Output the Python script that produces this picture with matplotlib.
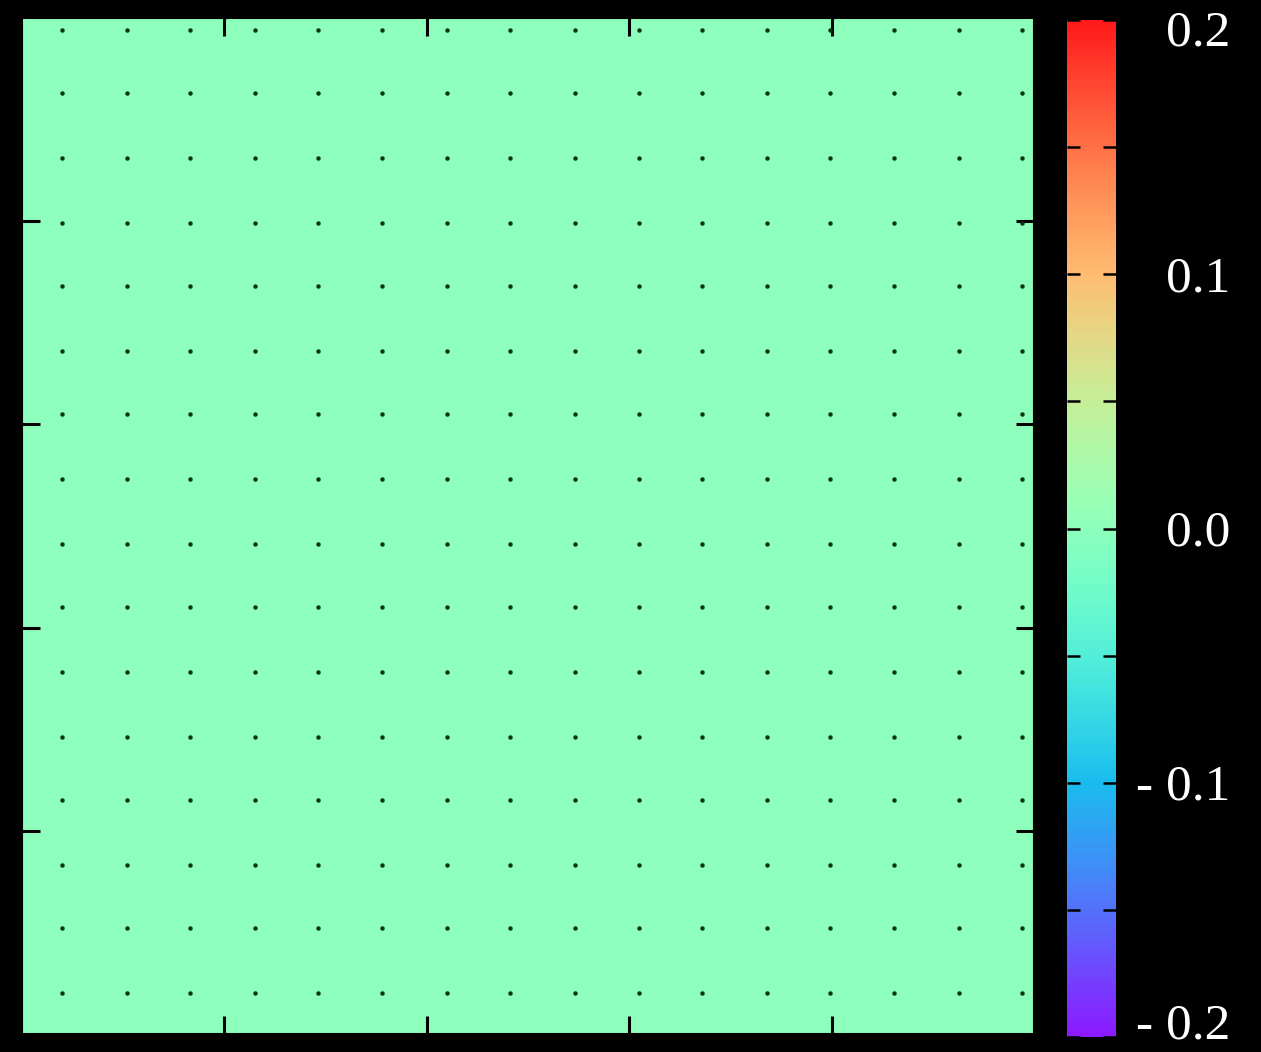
import matplotlib
matplotlib.use("Agg")
import matplotlib.pyplot as plt
import numpy as np
from matplotlib.colors import ListedColormap
from matplotlib.ticker import FixedLocator, NullFormatter
from matplotlib.transforms import blended_transform_factory, ScaledTranslation


# field on the square (flat, every node reads 0.0 at this frame)
field = [[0.0] * 16 for _ in range(16)]

# node positions of the dot grid, same on both axes
node_x = [0.20, 0.52, 0.83, 1.15, 1.46, 1.78, 2.10, 2.41,
          2.73, 3.05, 3.36, 3.68, 3.99, 4.31, 4.63, 4.94]
node_y = [0.20, 0.52, 0.83, 1.15, 1.46, 1.78, 2.10, 2.41,
          2.73, 3.05, 3.36, 3.68, 3.99, 4.31, 4.63, 4.94]

axis_ticks = [1, 2, 3, 4]
vmin, vmax = -0.2, 0.2
cbar_ticks = [-0.2, -0.1, 0.0, 0.1, 0.2]
cbar_labels = ["- 0.2", "- 0.1", "0.0", "0.1", "0.2"]
cbar_minor = [-0.15, -0.05, 0.05, 0.15]

# rainbow, washed a little toward white like the video frame
base = plt.get_cmap("rainbow")(np.linspace(0, 1, 256))
base[:, :3] = base[:, :3] * 0.9 + 0.1
cmap = ListedColormap(base)

W, H = 1261, 1052
fig = plt.figure(figsize=(W / 100, H / 100), dpi=100, facecolor="black")

ax = fig.add_axes([22 / W, 1 - 1034 / H, 1012 / W, 1016 / H])
ax.set_facecolor("black")
im = ax.imshow(field, cmap=cmap, vmin=vmin, vmax=vmax,
               extent=(0, 5, 0, 5), origin="lower", aspect="auto",
               interpolation="nearest")

gx, gy = np.meshgrid(node_x, node_y)
ax.plot(gx.ravel(), gy.ravel(), "o", color="#0a3216", ms=3.2, mew=0)

ax.set_xlim(0, 5)
ax.set_ylim(0, 5)
ax.set_xticks(axis_ticks)
ax.set_yticks(axis_ticks)
ax.set_xticklabels([])
ax.set_yticklabels([])
ax.tick_params(direction="in", length=13, width=2.2, color="black",
               top=True, right=True)
for s in ax.spines.values():
    s.set_color("black")
    s.set_linewidth(1.5)

# colorbar
cax = fig.add_axes([1067 / W, 1 - 1037 / H, 49 / W, 1017 / H])
cb = fig.colorbar(im, cax=cax)
cb.outline.set_visible(False)
cax.yaxis.set_major_locator(FixedLocator(cbar_ticks))
cax.yaxis.set_minor_locator(FixedLocator(cbar_minor))
cax.yaxis.set_major_formatter(NullFormatter())
cax.tick_params(which="both", direction="in", length=9.5, width=1.8,
                color="black", left=True, right=True)

# labels sit right-aligned; the two end ones are nudged inside the frame
trans = blended_transform_factory(cax.transAxes, cax.transData)
for val, lab in zip(cbar_ticks, cbar_labels):
    dy = -5
    if val == vmax:
        dy = -13
    elif val == vmin:
        dy = 11
    t = trans + ScaledTranslation(0, dy / 100, fig.dpi_scale_trans)
    cax.text(1 + 114 / 49, val, lab, transform=t, ha="right", va="center",
             family="Liberation Serif", fontsize=37, color="white",
             clip_on=False)

fig.savefig("out.png", dpi=100, facecolor="black")
